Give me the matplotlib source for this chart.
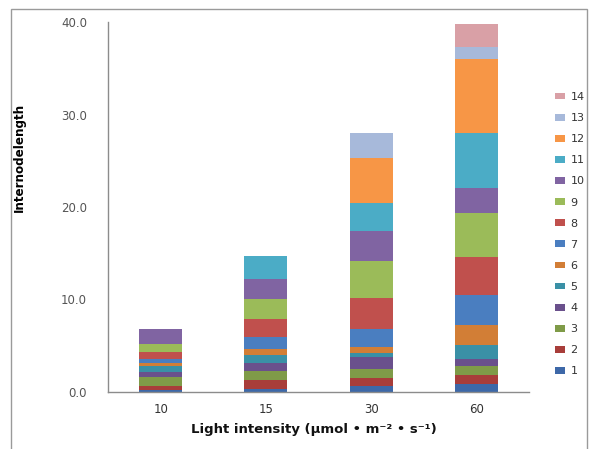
import matplotlib
matplotlib.use("Agg")
import matplotlib.pyplot as plt
from matplotlib.patches import Rectangle, Patch
import numpy as np

categories = ["10", "15", "30", "60"]
series_names = [str(i) for i in range(1, 15)]
# values per internode (series 1..14) for each light intensity
s1 = [0.2, 0.3, 0.6, 0.9]
s2 = [0.45, 1.0, 0.9, 0.9]
s3 = [1.0, 1.0, 0.95, 1.0]
s4 = [0.55, 0.8, 1.3, 0.8]
s5 = [0.65, 0.9, 0.5, 1.5]
s6 = [0.25, 0.6, 0.65, 2.1]
s7 = [0.43, 1.3, 1.9, 3.3]
s8 = [0.8, 2.0, 3.4, 4.1]
s9 = [0.85, 2.2, 4.0, 4.7]
s10 = [1.62, 2.1, 3.2, 2.8]
s11 = [0.0, 2.5, 3.0, 5.9]
s12 = [0.0, 0.0, 4.9, 8.0]
s13 = [0.0, 0.0, 2.7, 1.3]
s14 = [0.0, 0.0, 0.0, 2.5]
series = [s1, s2, s3, s4, s5, s6, s7, s8, s9, s10, s11, s12, s13, s14]
yticks = [0, 10, 20, 30, 40]

colors = ["#3D68A8", "#A83D3A", "#7F9B48", "#6A508C", "#3A90A6", "#D27E36",
          "#4A7EC0", "#C0504D", "#9BBB59", "#8064A2", "#4BACC6", "#F79646",
          "#A7B9DA", "#D9A0A6"]

fig = plt.figure(figsize=(5.9, 4.49), dpi=100)
ax = fig.add_axes([108/590, 1-392/449, 421/590, 370/449])

x = np.arange(len(categories))
bottom = np.zeros(len(categories))
for vals, c, name in zip(series, colors, series_names):
    v = np.array(vals)
    ax.bar(x, v, 0.41, bottom=bottom, color=c, label=name, linewidth=0)
    bottom += v

ax.set_xlim(-0.5, 3.5)
ax.set_ylim(0, 40)
ax.set_yticks(yticks)
ax.set_yticklabels([f"{t:.1f}" for t in yticks], color="#555555", fontsize=8.5)
ax.set_xticks(x)
ax.set_xticklabels(categories, fontsize=8.5, color="#333333")
ax.tick_params(axis="both", length=0, pad=8)
ax.tick_params(axis="y", pad=15)
for s in ["top", "right"]:
    ax.spines[s].set_visible(False)
for s in ["left", "bottom"]:
    ax.spines[s].set_color("#8c8c8c")
    ax.spines[s].set_linewidth(1)

ax.set_ylabel("Internodelength", fontsize=9.5, fontweight="bold",
              fontstretch="condensed", family="DejaVu Sans")
ax.yaxis.set_label_coords(-0.195, 0.635)
ax.set_xlabel("Light intensity (\u03bcmol \u2022 m\u207b\u00b2 \u2022 s\u207b\u00b9)",
              fontsize=9.5, fontweight="bold", color="#111111")
ax.xaxis.set_label_coords(0.49, -0.085)

handles = [Patch(facecolor=c, edgecolor="none") for c in colors][::-1]
labels = series_names[::-1]
fig.legend(handles, labels, loc="upper left", bbox_to_anchor=(545/590, 1-82/449),
           frameon=False, fontsize=8, labelspacing=1.0, handlelength=0.9,
           handleheight=0.55, handletextpad=0.5, labelcolor="#333333")

fig.patches.append(Rectangle((11/590, -0.01), 576/590, 1-9/449+0.01,
                             transform=fig.transFigure, fill=False,
                             edgecolor="#9a9a9a", linewidth=1))

fig.savefig("out.png", dpi=100)
